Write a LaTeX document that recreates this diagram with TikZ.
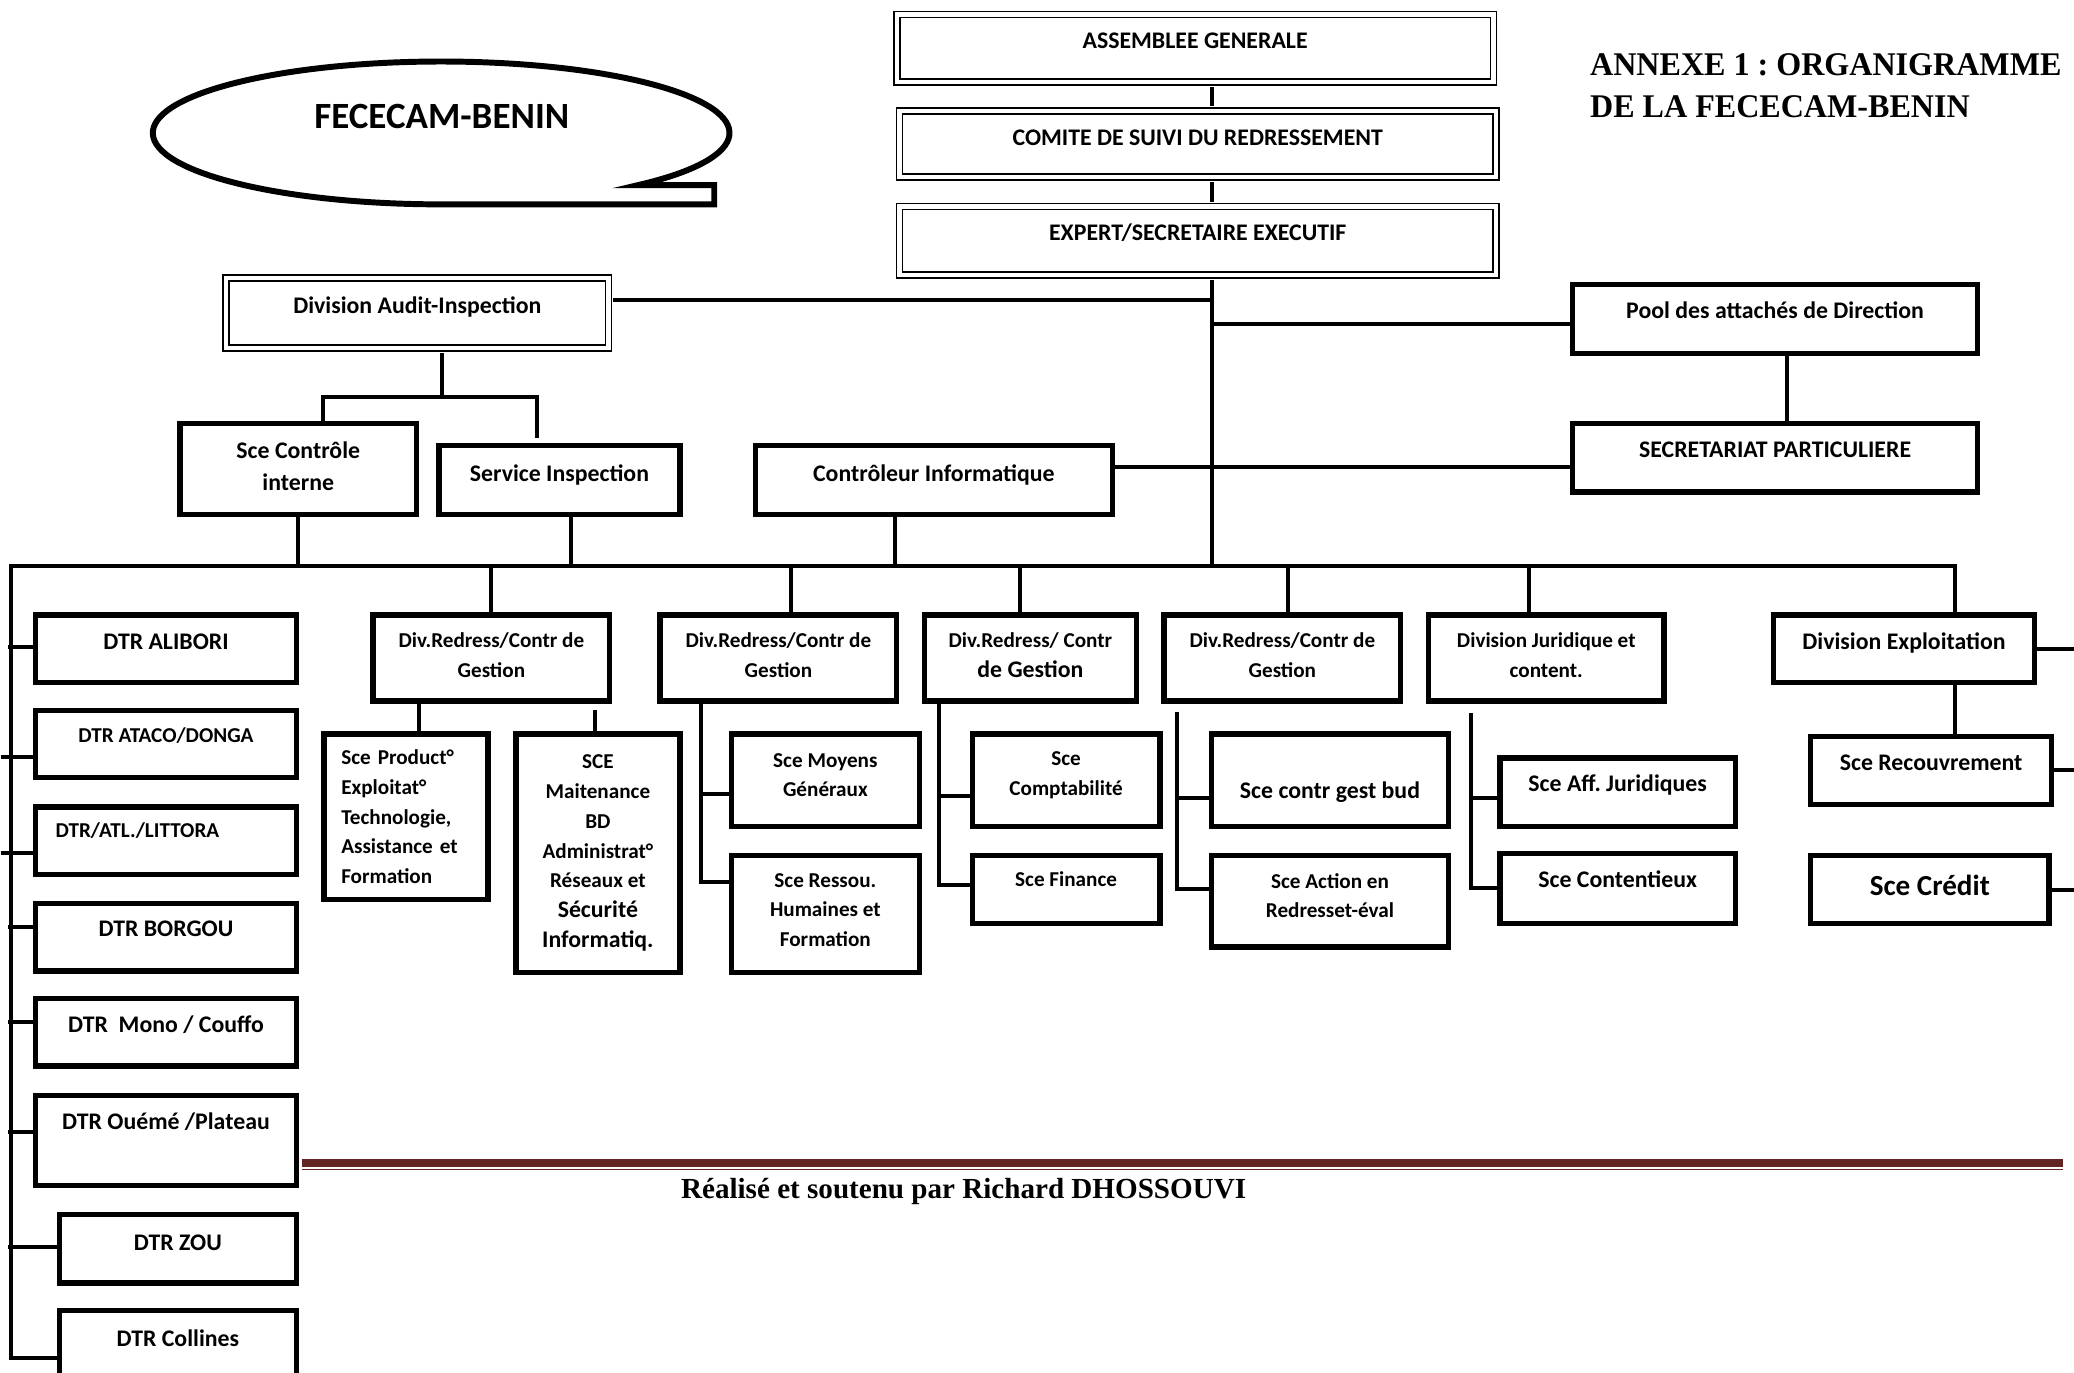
\documentclass[tikz,border=0pt]{standalone}
\usepackage{fontspec}
\setmainfont{Carlito}
\newfontfamily\timesfont{Liberation Serif}
\newfontfamily\annexfont[FakeStretch=0.97]{Liberation Serif}
\usepackage{xcolor}
\definecolor{Footer-red}{RGB}{99, 36, 35}
\usetikzlibrary{positioning,calc}
\frenchspacing

\begin{document}
\begin{tikzpicture} [
    x=1pt, y=-1pt, line join=miter,
    font=\bfseries\fontsize{18}{24}\selectfont,
    box/.style = {rectangle,draw,line width=4pt,inner sep=0pt,align=center},
    dbox/.style = {rectangle,draw,double,double distance=3.4pt,line width=1.2pt,inner sep=0pt,align=center},
    dims/.style 2 args = {minimum width=#1pt,minimum height=#2pt},
    oneline/.style = {text height=13pt,text depth=#1},
    oneline/.default = 13pt,
    lift/.style = {text depth=#1},
    small/.style = {font=\bfseries\fontsize{16}{22.5}\selectfont},
    large/.style = {font=\bfseries\fontsize{22}{26}\selectfont},
    link/.style = {line width=3pt},
    bubble/.style = {line width=4.5pt}
    ]

    \useasboundingbox (0, 0) rectangle (1568, 1038);

    % titles
    \draw[bubble] (333.5, 154.5) -- (540, 154.5) -- (540, 140) -- (482.2, 140)
        arc[start angle=47, end angle=-270, x radius=218, y radius=54] -- cycle;
    \node (fececam) [font=\bfseries\fontsize{28}{32}\selectfont] at (334, 88) {FECECAM-BENIN};
    \node (annexe) [anchor=west, align=left, inner sep=0pt, font=\annexfont\bfseries\fontsize{25}{32}\selectfont] at (1202, 65)
        {ANNEXE 1 : ORGANIGRAMME\\DE LA FECECAM-BENIN};

    % direction
    \node (ag) [dbox, dims={451}{51}, oneline=12.6pt] at (903.5, 36.5) {ASSEMBLEE GENERALE};
    \node (comite) [dbox, dims={451}{50}, oneline=11.6pt] at (905.5, 109) {COMITE DE SUIVI DU REDRESSEMENT};
    \node (expert) [dbox, dims={451}{52}, oneline=13.6pt] at (905.5, 182) {EXPERT/SECRETAIRE EXECUTIF};
    \node (audit) [dbox, dims={289}{53}, oneline=12.6pt] at (315.5, 236.5) {Division Audit-Inspection};

    \node (pool) [box, dims={306}{52}, oneline=13.6pt] at (1342, 241) {Pool des attachés de Direction};
    \node (secr) [box, dims={306}{52}, oneline=13.6pt] at (1342, 346) {SECRETARIAT PARTICULIERE};
    \node (scectrl) [box, dims={179}{69}, lift=4pt] at (225.5, 354.5) {Sce Contrôle\\interne};
    \node (sceinsp) [box, dims={182}{52}, oneline=11.6pt] at (423, 363) {Service Inspection};
    \node (ctrlinfo) [box, dims={270}{52}, oneline=11.6pt] at (706, 363) {Contrôleur Informatique};

    % directions departementales
    \node (dtr1) [box, dims={197}{51}, oneline=12.6pt] at (125.5, 490.5) {DTR ALIBORI};
    \node (dtr2) [box, small, dims={197}{51}, oneline=15.9pt] at (125.5, 562.5) {DTR ATACO/DONGA};
    \node (dtr3) [box, small, dims={197}{51}, oneline=17.9pt, align=left, text width=167pt, inner xsep=15pt] at (125.5, 635.5) {DTR/ATL./LITTORA};
    \node (dtr4) [box, dims={197}{51}, oneline=14.6pt] at (125.5, 708.5) {DTR BORGOU};
    \node (dtr5) [box, dims={197}{51}, oneline=12.6pt] at (125.5, 780.5) {DTR\ \ Mono / Couffo};
    \node (dtr6) [box, dims={197}{68}, oneline=29.6pt] at (125.5, 862) {DTR Ouémé /Plateau};
    \node (dtr7) [box, dims={179}{52}, oneline=9.6pt] at (134.5, 944) {DTR ZOU};
    \node (dtr8) [box, dims={179}{72}, oneline=31.6pt] at (134.5, 1027) {DTR Collines};

    % divisions
    \node (div1) [box, small, dims={179}{65}, lift=5pt] at (371.5, 497.5) {Div.Redress/Contr de\\Gestion};
    \node (div2) [box, small, dims={179}{65}, lift=5pt] at (588.5, 497.5) {Div.Redress/Contr de\\Gestion};
    \node (div3) [box, small, dims={160}{65}, lift=5pt] at (779, 497.5) {Div.Redress/ Contr\\{\fontsize{18}{24}\selectfont de Gestion}};
    \node (div4) [box, small, dims={179}{65}, lift=5pt] at (969.5, 497.5) {Div.Redress/Contr de\\Gestion};
    \node (divjur) [box, small, dims={178}{65}, lift=5pt] at (1169, 497.5) {Division Juridique et\\content.};
    \node (divexp) [box, dims={197}{51}, oneline=12.6pt] at (1439.5, 490.5) {Division Exploitation};

    % services
    \node (prod) [box, small, dims={124}{125}, align=left, text width=98pt, inner xsep=13pt] at (307, 617.5)
        {Sce Product°\\Exploitat°\\Technologie,\\Assistance et\\Formation};
    \node (maint) [box, small, dims={124}{180}] at (452, 645)
        {SCE\\Maitenance\\BD\\Administrat°\\Réseaux et\\{\fontsize{18}{25}\selectfont Sécurité}\\{\fontsize{18}{25}\selectfont Informatiq.}};
    \node (moyens) [box, small, dims={142}{70}, lift=8pt] at (624, 590) {Sce Moyens\\Généraux};
    \node (ressou) [box, small, dims={142}{88}, lift=6pt] at (624, 691) {Sce Ressou.\\Humaines et\\Formation};
    \node (compta) [box, small, dims={142}{70}, lift=10pt] at (806, 590) {Sce\\Comptabilité};
    \node (finance) [box, small, dims={142}{51}, oneline=17.9pt] at (806, 672.5) {Sce Finance};
    \node (gestbud) [box, dims={179}{70}, text height=27.4pt, text depth=0pt] at (1005.5, 590) {Sce contr gest bud};
    \node (action) [box, small, dims={179}{69}, lift=9pt] at (1005.5, 681.5) {Sce Action en\\Redresset-éval};
    \node (affjur) [box, dims={178}{52}, oneline=13.6pt] at (1223, 599) {Sce Aff. Juridiques};
    \node (content) [box, dims={178}{53}, oneline=14.6pt] at (1223, 671.5) {Sce Contentieux};
    \node (recouv) [box, dims={182}{51}, oneline=12.6pt] at (1460, 582.5) {Sce Recouvrement};
    \node (credit) [box, large, dims={180}{51}, text height=16pt, text depth=7.1pt] at (1459, 672.5) {Sce Crédit};

    \coordinate (trunk) at ([xshift=10.5pt]expert.south);
    \coordinate (lbus) at (8, 428);
    \coordinate (brk) at (334, 300);
    \coordinate (redge) at (1575, 0);

    % links of the direction
    \draw[link, shorten <=3pt, shorten >=3pt] ([xshift=12.5pt]ag.south) -- ([xshift=12.5pt]ag.south |- comite.north);
    \draw[link, shorten <=3pt, shorten >=3pt] ([xshift=10.5pt]comite.south) -- (trunk |- expert.north);
    \draw[link, shorten <=3pt] (trunk) -- (trunk |- lbus);
    \draw[link, shorten <=3pt] ([yshift=9.5pt]audit.east) -- ([yshift=9.5pt]audit.east -| trunk);
    \draw[link] ([yshift=-4pt]pool.west) -- ([yshift=-4pt]pool.west -| trunk);
    \draw[link] ([xshift=9pt]pool.south) -- ([xshift=9pt]secr.north);
    \draw[link] ([yshift=10pt]ctrlinfo.east) -- ([yshift=10pt]ctrlinfo.east -| secr.west);

    \draw[link, shorten <=3pt] ([xshift=18.5pt]audit.south) -- (brk);
    \draw[link] ([xshift=18.5pt]scectrl.north) |- (brk) -| ([xshift=-17pt,yshift=4pt]sceinsp.north);

    \foreach \nd/\dx in {scectrl/0, sceinsp/9, ctrlinfo/-29}
        \draw[link] ([xshift=\dx pt]\nd.south) -- ([xshift=\dx pt]\nd.south |- lbus);

    % main bus
    \draw[link] (dtr8.west) -| (lbus) -| ([xshift=38.5pt]divexp.north);

    \foreach \nd/\dx in {div1/0, div2/9.5, div3/-8, div4/4.5, divjur/-13}
        \draw[link] ([xshift=\dx pt]\nd.north) -- ([xshift=\dx pt]\nd.north |- lbus);

    \foreach \i/\dy/\len in {1/1.5/19, 2/-9.5/24, 3/-9.5/24, 4/7.5/19, 5/7.5/19, 6/6/19, 7/1/37}
        \draw[link] ([yshift=\dy pt]dtr\i.west) -- ++(-\len, 0);

    % services of the divisions
    \draw[link] ([xshift=10pt]prod.north) -- ([xshift=10pt]prod.north |- div1.south);
    \draw[link, shorten >=5pt] ([xshift=-2pt]maint.north) -- ([xshift=-2pt]maint.north |- div1.south);

    \draw[link] ([xshift=33pt]div2.south west) |- ([yshift=-10pt]moyens.west);
    \draw[link] ([xshift=33pt]div2.south west) |- ([yshift=24pt]ressou.west);
    \draw[link] ([xshift=13pt]div3.south west) |- ([yshift=-12pt]compta.west);
    \draw[link] ([xshift=13pt]div3.south west) |- ([yshift=3.5pt]finance.west);
    \draw[link] ([xshift=12pt,yshift=-6pt]div4.south west) |- ([yshift=-13pt]gestbud.west);
    \draw[link] ([xshift=12pt,yshift=-6pt]div4.south west) |- ([yshift=9.5pt]action.west);
    \draw[link] ([xshift=34pt,yshift=-7pt]divjur.south west) |- ([yshift=-4.6pt]affjur.west);
    \draw[link] ([xshift=34pt,yshift=-7pt]divjur.south west) |- (content.west);

    \draw[link] ([xshift=38.5pt]divexp.south) -- ([xshift=38.5pt]divexp.south |- recouv.north);
    \foreach \nd in {divexp, recouv, credit}
        \draw[link] (\nd.east) -- (\nd.east -| redge);

    % footer
    \draw[Footer-red, line width=6pt] (228, 879) -- (1560, 879);
    \draw[Footer-red, line width=1.4pt] (228, 884.2) -- (1560, 884.2);
    \node (author) [font=\timesfont\bfseries\fontsize{22}{26}\selectfont] at (728.5, 901)
        {Réalisé et soutenu par Richard DHOSSOUVI};

\end{tikzpicture}
\end{document}
